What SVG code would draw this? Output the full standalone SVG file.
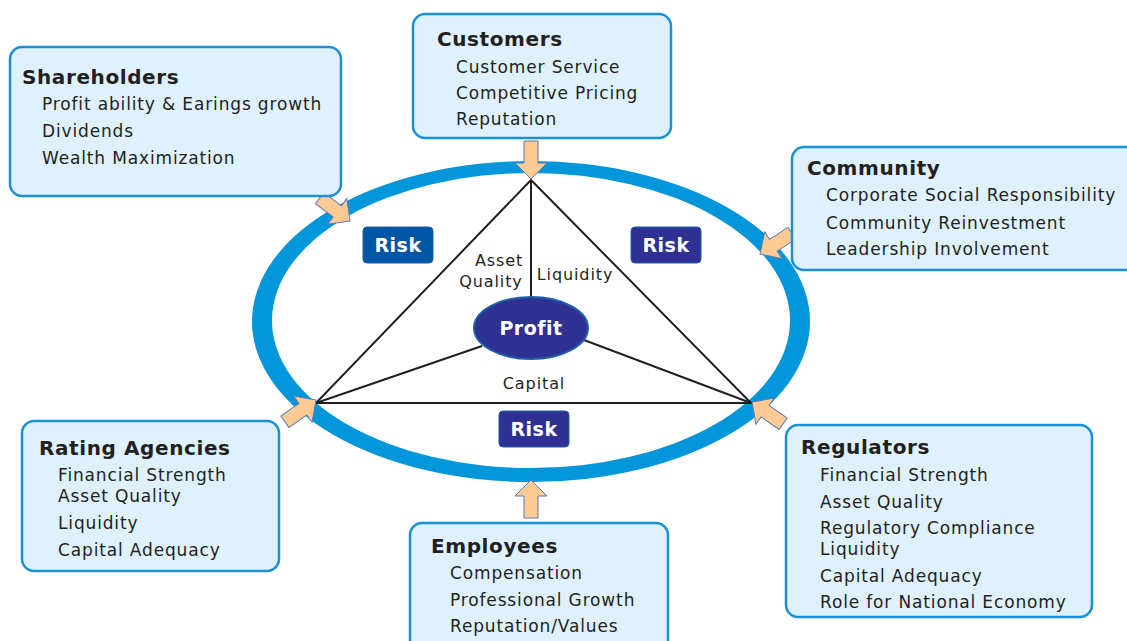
<svg xmlns="http://www.w3.org/2000/svg" width="1127" height="641" viewBox="0 0 1127 641">
<style>
.box{fill:#dff1fc;stroke:#1a90d8;stroke-width:2.5}
.t{font-family:"DejaVu Sans",Verdana,sans-serif;font-size:20px;font-weight:bold;fill:#231f20;letter-spacing:0.6px}
.i{font-family:"DejaVu Sans",Verdana,sans-serif;font-size:17px;fill:#231f20;letter-spacing:0.85px}
.lbl{font-family:"DejaVu Sans",Verdana,sans-serif;font-size:16px;fill:#231f20;letter-spacing:0.9px}
.risk{stroke:#1f5fa8;stroke-width:1}
.rt{font-family:"DejaVu Sans",Verdana,sans-serif;font-size:19px;font-weight:bold;fill:#fff;text-anchor:middle;letter-spacing:0.5px}
.arr{fill:#fdca94;stroke:#5b7bb5;stroke-width:1}
.ln{stroke:#231f20;stroke-width:2;fill:none}
</style>
<defs>
<path id="ar" d="M0,0 l-16,-16 v9 h-22 v14 h22 v9 Z"/>
</defs>
<rect width="1127" height="641" fill="#fff"/>
<g id="ring">
<path fill="#0396db" fill-rule="evenodd" d="M252,321.5a279,160.5 0 1,0 558,0a279,160.5 0 1,0 -558,0Z M272,320.5a259,147.5 0 1,0 518,0a259,147.5 0 1,0 -518,0Z"/>
</g>
<g id="connectors">
<path class="ln" d="M531,180 L316,403 L751,403 Z"/>
<line class="ln" x1="531" y1="180" x2="531" y2="300" stroke-width="1.5"/>
<line class="ln" x1="316" y1="403" x2="482" y2="346"/>
<line class="ln" x1="751" y1="403" x2="584" y2="340"/>
</g>
<g id="labels">
<text class="lbl" x="499" y="266" text-anchor="middle">Asset</text>
<text class="lbl" x="491" y="287" text-anchor="middle">Quality</text>
<text class="lbl" x="575" y="280" text-anchor="middle">Liquidity</text>
<text class="lbl" x="534" y="389" text-anchor="middle">Capital</text>
</g>
<g id="profit">
<ellipse cx="531" cy="328" rx="57" ry="31" fill="#2e3192" stroke="#1f5fa8" stroke-width="2"/>
<text class="rt" x="531" y="335">Profit</text>
</g>
<g id="risk1">
<rect class="risk" x="363" y="227" width="70" height="36" rx="4" fill="#0055a5"/>
<text class="rt" x="398" y="252">Risk</text>
</g>
<g id="risk2">
<rect class="risk" x="631" y="227" width="70" height="36" rx="4" fill="#2e3192"/>
<text class="rt" x="666" y="252">Risk</text>
</g>
<g id="risk3">
<rect class="risk" x="499" y="411" width="70" height="36" rx="4" fill="#2e3192"/>
<text class="rt" x="534" y="436">Risk</text>
</g>
<g id="arrows">
<use href="#ar" class="arr" transform="translate(531,179) rotate(90)"/>
<use href="#ar" class="arr" transform="translate(531,480) rotate(-90)"/>
<use href="#ar" class="arr" transform="translate(350,221) rotate(37)"/>
<use href="#ar" class="arr" transform="translate(760,254) rotate(147)"/>
<use href="#ar" class="arr" transform="translate(316,400) rotate(-35)"/>
<use href="#ar" class="arr" transform="translate(752,402) rotate(-145)"/>
</g>
<g id="shareholders">
<rect class="box" x="10" y="47" width="331" height="149" rx="12"/>
<text class="t" x="22" y="84">Shareholders</text>
<text class="i" x="42" y="110">Profit ability &amp; Earings growth</text>
<text class="i" x="42" y="137">Dividends</text>
<text class="i" x="42" y="164">Wealth Maximization</text>
</g>
<g id="customers">
<rect class="box" x="413" y="14" width="258" height="124" rx="12"/>
<text class="t" x="437" y="46">Customers</text>
<text class="i" x="456" y="73">Customer Service</text>
<text class="i" x="456" y="99">Competitive Pricing</text>
<text class="i" x="456" y="125">Reputation</text>
</g>
<g id="community">
<rect class="box" x="792" y="147" width="350" height="123" rx="12"/>
<text class="t" x="807" y="175">Community</text>
<text class="i" x="826" y="201">Corporate Social Responsibility</text>
<text class="i" x="826" y="229">Community Reinvestment</text>
<text class="i" x="826" y="255">Leadership Involvement</text>
</g>
<g id="rating">
<rect class="box" x="22" y="421" width="257" height="150" rx="12"/>
<text class="t" x="39" y="455">Rating Agencies</text>
<text class="i" x="58" y="481">Financial Strength</text>
<text class="i" x="58" y="502">Asset Quality</text>
<text class="i" x="58" y="529">Liquidity</text>
<text class="i" x="58" y="556">Capital Adequacy</text>
</g>
<g id="regulators">
<rect class="box" x="786" y="425" width="306" height="192" rx="12"/>
<text class="t" x="801" y="454">Regulators</text>
<text class="i" x="820" y="481">Financial Strength</text>
<text class="i" x="820" y="508">Asset Quality</text>
<text class="i" x="820" y="534">Regulatory Compliance</text>
<text class="i" x="820" y="555">Liquidity</text>
<text class="i" x="820" y="582">Capital Adequacy</text>
<text class="i" x="820" y="608">Role for National Economy</text>
</g>
<g id="employees">
<rect class="box" x="410" y="523" width="258" height="130" rx="12"/>
<text class="t" x="431" y="553">Employees</text>
<text class="i" x="450" y="579">Compensation</text>
<text class="i" x="450" y="606">Professional Growth</text>
<text class="i" x="450" y="632">Reputation/Values</text>
</g>
</svg>
